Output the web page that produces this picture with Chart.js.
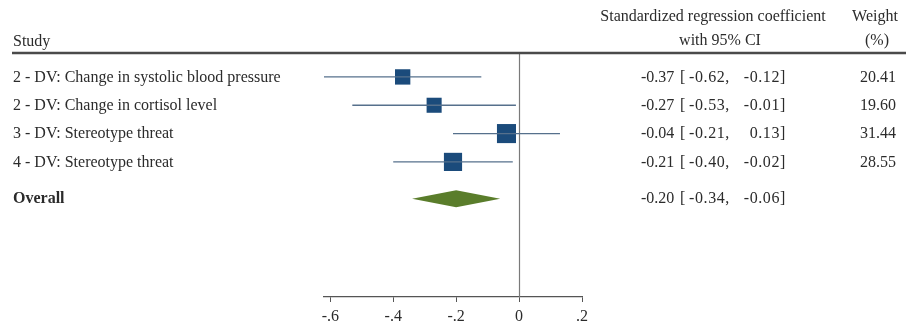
<!DOCTYPE html>
<html>
<head>
<meta charset="utf-8">
<script src="https://cdn.jsdelivr.net/npm/chart.js@4"></script>
<style>
  body { margin: 0; background: #fff; }
  #wrap { width: 910px; height: 331px; position: relative; }
</style>
</head>
<body>
<div id="wrap"><canvas id="myChart"></canvas></div>
<script>
const studies = [
  "2 - DV: Change in systolic blood pressure",
  "2 - DV: Change in cortisol level",
  "3 - DV: Stereotype threat",
  "4 - DV: Stereotype threat",
];
const estimates = [-0.37, -0.27, -0.04, -0.21];
const ciLow = [-0.62, -0.53, -0.21, -0.4];
const ciHigh = [-0.12, -0.01, 0.13, -0.02];
const weights = [20.41, 19.6, 31.44, 28.55];
const overallLabel = "Overall";
const overallValues = [-0.2, -0.34, -0.06]; // estimate, low, high
const rows = [1, 2, 3, 4, 5.3];
const xTicks = [-0.6, -0.4, -0.2, 0, 0.2];
const tickLabels = ["-.6", "-.4", "-.2", "0", ".2"];

const serif = "'Liberation Serif', 'Times New Roman', serif";
const textColor = "#2b2b2b";

function drawCI(ctx, est, lo, hi, py) {
  ctx.save();
  ctx.textAlign = "left";
  ctx.fillText(est.toFixed(2), 641, py);
  ctx.fillText("[", 680, py);
  ctx.letterSpacing = "0.6px";
  ctx.fillText(lo.toFixed(2) + ",", 689, py);
  ctx.textAlign = "right";
  ctx.fillText(hi.toFixed(2) + "]", 786, py);
  ctx.restore();
}

function createChart() {
  const datasets = [];

  studies.forEach((name, i) => {
    datasets.push({
      label: name,
      data: [
        { x: ciLow[i], y: rows[i] },
        { x: ciHigh[i], y: rows[i] },
      ],
      showLine: true,
      clip: false,
      borderColor: "#56708c",
      borderWidth: 1.3,
      pointRadius: 0,
    });
  });

  datasets.push({
    label: "Estimate",
    data: estimates.map((v, i) => ({ x: v, y: rows[i] })),
    clip: false,
    pointStyle: "rect",
    pointRadius: weights.map((w) => (3.4 * Math.sqrt(w)) / Math.SQRT2),
    backgroundColor: "#1b4b7b",
    borderWidth: 0,
  });

  const forestText = {
    id: "forestText",
    beforeDatasetsDraw(chart) {
      const { ctx, chartArea, scales } = chart;
      const x0 = scales.x.getPixelForValue(0);
      ctx.save();
      ctx.strokeStyle = "#7a7a7a";
      ctx.lineWidth = 1.2;
      ctx.beginPath();
      ctx.moveTo(Math.round(x0) + 0.5, chartArea.top);
      ctx.lineTo(Math.round(x0) + 0.5, chartArea.bottom);
      ctx.stroke();
      ctx.restore();
    },
    afterDatasetsDraw(chart) {
      const { ctx, scales } = chart;
      const x = scales.x;
      const y = scales.y;
      ctx.save();

      // overall diamond
      const oy = y.getPixelForValue(rows[4]);
      ctx.fillStyle = "#5a7d2b";
      ctx.beginPath();
      ctx.moveTo(x.getPixelForValue(overallValues[1]), oy);
      ctx.lineTo(x.getPixelForValue(overallValues[0]), oy - 8.5);
      ctx.lineTo(x.getPixelForValue(overallValues[2]), oy);
      ctx.lineTo(x.getPixelForValue(overallValues[0]), oy + 8.5);
      ctx.closePath();
      ctx.fill();

      // header
      ctx.fillStyle = textColor;
      ctx.textBaseline = "middle";
      ctx.font = `16px ${serif}`;
      ctx.textAlign = "left";
      ctx.fillText("Study", 13, 42);
      ctx.textAlign = "center";
      ctx.fillText("Standardized regression coefficient", 713, 17);
      ctx.fillText("with 95% CI", 720, 41);
      ctx.fillText("Weight", 875, 17);
      ctx.fillText("(%)", 877, 41);

      ctx.strokeStyle = "#4a4a4a";
      ctx.lineWidth = 2.5;
      ctx.beginPath();
      ctx.moveTo(12, 53);
      ctx.lineTo(906, 53);
      ctx.stroke();

      // rows
      studies.forEach((name, i) => {
        const py = y.getPixelForValue(rows[i]) + 0.5;
        ctx.textAlign = "left";
        ctx.fillText(name, 13, py);
        drawCI(ctx, estimates[i], ciLow[i], ciHigh[i], py);
        ctx.textAlign = "right";
        ctx.fillText(weights[i].toFixed(2), 896, py);
      });

      drawCI(ctx, overallValues[0], overallValues[1], overallValues[2], oy);
      ctx.textAlign = "left";
      ctx.font = `bold 16px ${serif}`;
      ctx.fillText(overallLabel, 13, oy);
      ctx.restore();
    },
  };

  const config = {
    type: "scatter",
    data: { datasets },
    options: {
      responsive: true,
      maintainAspectRatio: false,
      animation: false,
      layout: {
        padding: { left: 324, right: 328, top: 52, bottom: 0 },
      },
      plugins: {
        legend: { display: false },
        tooltip: { enabled: false },
      },
      scales: {
        x: {
          type: "linear",
          min: -0.62,
          max: 0.2,
          afterBuildTicks: (scale) => {
            scale.ticks = xTicks.map((v) => ({ value: v }));
          },
          afterFit: (scale) => {
            scale.height = 34;
          },
          ticks: {
            color: textColor,
            font: { family: serif, size: 16 },
            padding: 5,
            maxRotation: 0,
            callback: (value) => tickLabels[xTicks.indexOf(value)] ?? "",
          },
          grid: {
            drawOnChartArea: false,
            drawTicks: true,
            tickLength: 5,
            color: "#555",
          },
          border: { display: true, color: "#555", width: 1.3 },
        },
        y: {
          type: "linear",
          display: false,
          reverse: true,
          min: 0.12,
          max: 8.77,
        },
      },
    },
    plugins: [forestText],
  };

  new Chart(document.getElementById("myChart"), config);
}

document.addEventListener("DOMContentLoaded", () => {
  createChart();
});
</script>
</body>
</html>
